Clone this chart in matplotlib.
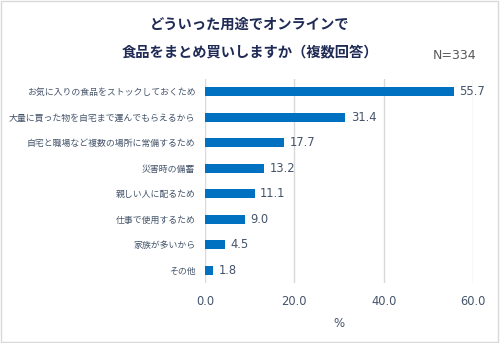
import matplotlib
matplotlib.use("Agg")
import matplotlib.pyplot as plt
from matplotlib.patches import Rectangle

plt.rcParams['font.family'] = ['Noto Sans CJK JP', 'DejaVu Sans']

categories = [
    "お気に入りの食品をストックしておくため",
    "大量に買った物を自宅まで運んでもらえるから",
    "自宅と職場など複数の場所に常備するため",
    "災害時の備蓄",
    "親しい人に配るため",
    "仕事で使用するため",
    "家族が多いから",
    "その他",
]
values = [55.7, 31.4, 17.7, 13.2, 11.1, 9.0, 4.5, 1.8]
xticks = [0, 20, 40, 60]
title_lines = ["どういった用途でオンラインで", "食品をまとめ買いしますか（複数回答）"]
n_label = "N=334"
x_label = "%"

bar_color = "#0070C0"
text_color = "#44546A"
title_color = "#1F2A55"

fig = plt.figure(figsize=(5.0, 3.43), dpi=100)
ax = fig.add_axes([0.41, 0.175, 0.536, 0.595])

ypos = list(range(len(categories)))
ax.barh(ypos, values, height=0.36, color=bar_color, zorder=3)
for y, v in zip(ypos, values):
    ax.text(v + 1.2, y, f"{v:.1f}", va="center", ha="left",
            fontsize=8.3, color=text_color, family="DejaVu Sans")

ax.set_xlim(0, 60)
ax.set_ylim(len(categories) - 0.5, -0.5)
ax.set_yticks(ypos)
ax.set_yticklabels(categories, fontsize=6.4, color=text_color)
ax.set_xticks(xticks)
ax.set_xticklabels([f"{t:.1f}" for t in xticks], fontsize=8.3, color=text_color,
                   family="DejaVu Sans")
ax.tick_params(axis="both", length=0)
ax.tick_params(axis="x", pad=9)
ax.tick_params(axis="y", pad=7)
ax.grid(axis="x", color="#D9D9D9", linewidth=1.0, zorder=0)
for s in ax.spines.values():
    s.set_visible(False)
ax.set_xlabel(x_label, fontsize=8.5, color=text_color, labelpad=6,
              family="DejaVu Sans")

fig.text(0.5, 0.927, title_lines[0], ha="center", va="center",
         fontsize=10.3, fontweight="bold", color=title_color)
fig.text(0.5, 0.848, title_lines[1], ha="center", va="center",
         fontsize=10.3, fontweight="bold", color=title_color)
fig.text(0.91, 0.838, n_label, ha="center", va="center",
         fontsize=9, color="#595959", family="DejaVu Sans")

fig.patches.append(Rectangle((0.002, 0.003), 0.994, 0.993, transform=fig.transFigure,
                             fill=False, edgecolor="#D9D9D9", linewidth=1.0))

fig.savefig("out.png", dpi=100)
